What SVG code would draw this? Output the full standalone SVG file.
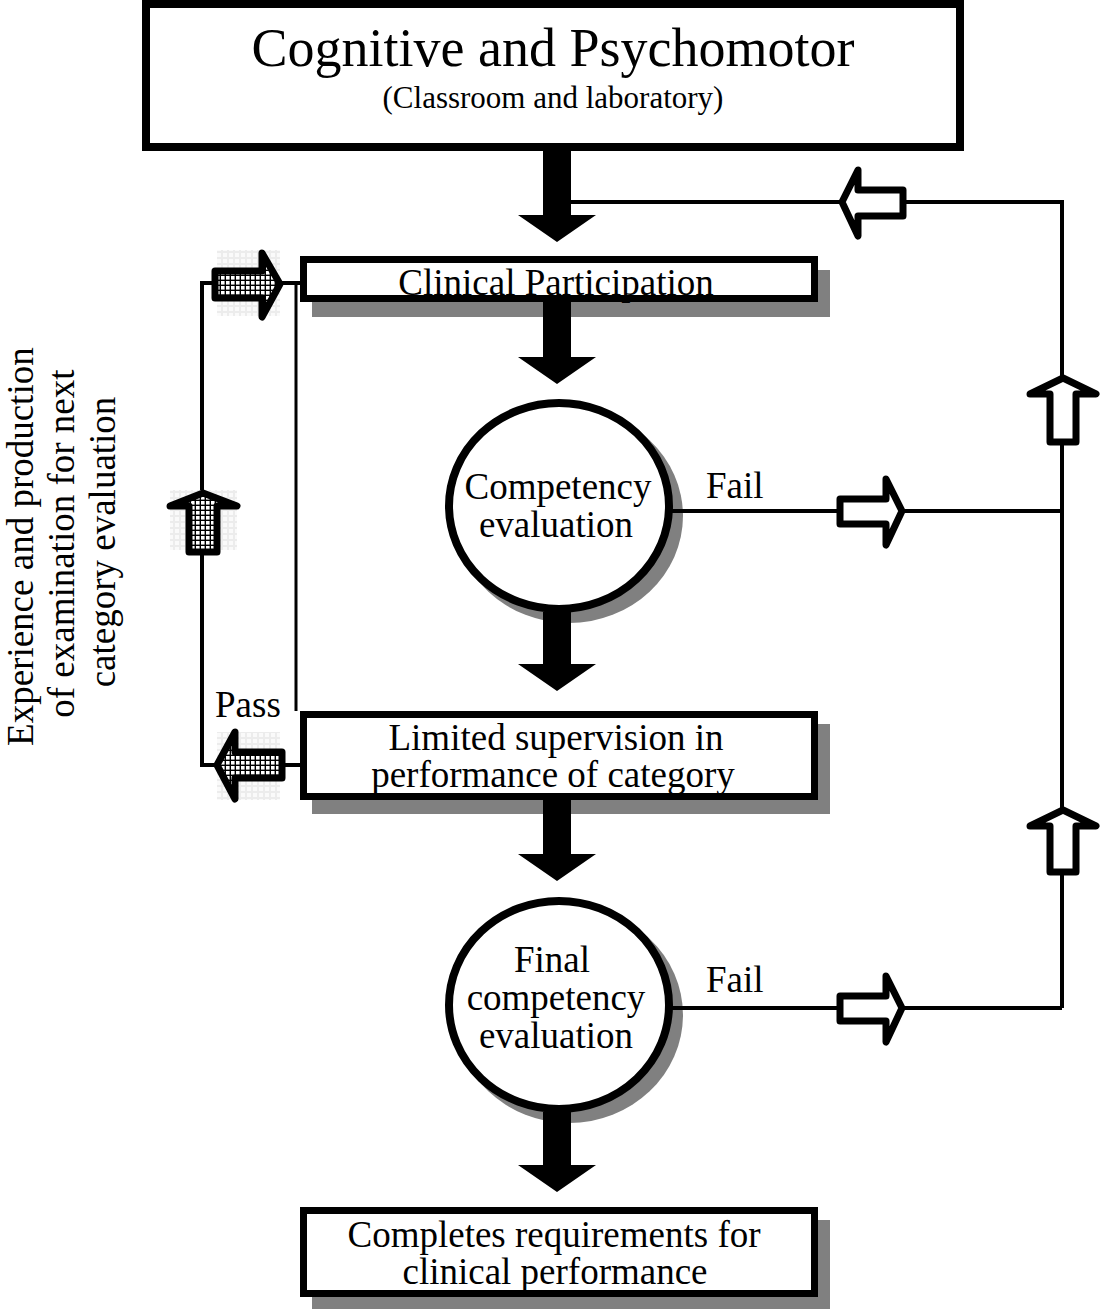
<svg xmlns="http://www.w3.org/2000/svg" width="1100" height="1309" viewBox="0 0 1100 1309">
<style>
text { font-family: "Liberation Serif", "Times New Roman", serif; fill: #000; }
.t { font-size: 37px; text-anchor: middle; }
.lbl { font-size: 37px; }
.box { fill: #fff; stroke: #000; stroke-width: 7; }
.shadow { fill: #808080; }
.circ { fill: #fff; stroke: #000; stroke-width: 8; }
.line { fill: none; stroke: #000; stroke-width: 4; }
.thin { fill: none; stroke: #000; stroke-width: 3; }
.solid { fill: #000; }
.hollow { fill: #fff; stroke: #000; stroke-width: 7; stroke-linejoin: round; }
.dotted { fill: url(#dots); stroke: #000; stroke-width: 7; stroke-linejoin: round; }
.halo { fill: url(#halo); }
</style>
<defs>
<pattern id="dots" width="5" height="5" patternUnits="userSpaceOnUse">
<rect width="5" height="5" fill="#000"/>
<rect x="1" y="1" width="3.6" height="3.6" fill="#fff"/>
</pattern>
<pattern id="halo" width="6" height="6" patternUnits="userSpaceOnUse">
<rect width="6" height="6" fill="#ececec"/>
<rect x="1" y="1" width="4" height="4" fill="#fafafa"/>
</pattern>
</defs>
<rect width="1100" height="1309" fill="#fff"/>

<g id="node-cognitive">
  <rect x="146" y="4" width="814" height="143" fill="#fff" stroke="#000" stroke-width="8"/>
  <text x="553" y="66" style="font-size:54px;text-anchor:middle">Cognitive and Psychomotor</text>
  <text x="553" y="108" style="font-size:31px;text-anchor:middle">(Classroom and laboratory)</text>
</g>

<g id="node-clinical">
  <rect class="shadow" x="312" y="270" width="518" height="47"/>
  <rect class="box" x="303.5" y="259.5" width="511" height="39"/>
  <text class="t" x="556" y="295">Clinical Participation</text>
</g>

<g id="node-competency">
  <ellipse class="shadow" cx="569" cy="516" rx="114" ry="107"/>
  <ellipse class="circ" cx="559" cy="506" rx="110" ry="103"/>
  <text class="t" x="558" y="499">Competency</text>
  <text class="t" x="556" y="537">evaluation</text>
</g>

<g id="node-limited">
  <rect class="shadow" x="312" y="724" width="518" height="90"/>
  <rect class="box" x="303.5" y="714.5" width="511" height="82"/>
  <text class="t" x="556" y="750">Limited supervision in</text>
  <text class="t" x="553" y="787">performance of category</text>
</g>

<g id="node-final">
  <ellipse class="shadow" cx="569" cy="1015" rx="114" ry="108"/>
  <ellipse class="circ" cx="559" cy="1005" rx="110" ry="104"/>
  <text class="t" x="552" y="972">Final</text>
  <text class="t" x="556" y="1010">competency</text>
  <text class="t" x="556" y="1048">evaluation</text>
</g>

<g id="node-completes">
  <rect class="shadow" x="312" y="1220" width="518" height="89"/>
  <rect class="box" x="303.5" y="1210.5" width="511" height="83"/>
  <text class="t" x="554" y="1247">Completes requirements for</text>
  <text class="t" x="555" y="1284">clinical performance</text>
</g>

<g id="side-label">
  <text class="t" transform="translate(33,542) rotate(-90)">
    <tspan x="0" y="0">Experience and production</tspan>
    <tspan x="3" y="41">of examination for next</tspan>
    <tspan x="0" y="82">category evaluation</tspan>
  </text>
</g>

<g id="connectors">
  <!-- right feedback loop -->
  <polyline class="line" points="571,202 1062,202 1062,1008"/>
  <line class="line" x1="671" y1="511" x2="1062" y2="511"/>
  <line class="line" x1="671" y1="1008" x2="1062" y2="1008"/>
  <!-- left pass loop -->
  <polyline class="line" points="300,765 202,765 202,283 300,283"/>
  <line class="thin" x1="296" y1="285" x2="296" y2="711"/>

  <!-- solid down arrows -->
  <polygon class="solid" points="543,151 571,151 571,215 596,215 557,242 518,215 543,215"/>
  <polygon class="solid" points="543,302 571,302 571,357 596,357 557,384 518,357 543,357"/>
  <polygon class="solid" points="543,612 571,612 571,664 596,664 557,691 518,664 543,664"/>
  <polygon class="solid" points="543,800 571,800 571,854 596,854 557,881 518,854 543,854"/>
  <polygon class="solid" points="543,1112 571,1112 571,1165 596,1165 557,1192 518,1165 543,1165"/>

  <!-- hollow arrows -->
  <polygon class="hollow" points="903,190 858,190 858,170 842,202 858,236 858,216 903,216"/>
  <polygon class="hollow" points="840,499 886,499 886,479 902,511 886,545 886,524 840,524"/>
  <polygon class="hollow" points="840,996 886,996 886,976 902,1008 886,1042 886,1021 840,1021"/>
  <polygon class="hollow" points="1050,442 1050,394 1030,394 1063,378 1096,394 1076,394 1076,442"/>
  <polygon class="hollow" points="1050,872 1050,826 1030,826 1063,810 1096,826 1076,826 1076,872"/>

  <!-- dotted arrows on the left -->
  <rect class="halo" x="217" y="250" width="63" height="66"/>
  <polygon class="dotted" points="215,271 262,271 262,253 280,284 262,317 262,298 215,298"/>
  <rect class="halo" x="170" y="490" width="67" height="60"/>
  <polygon class="dotted" points="189,552 189,506 170,506 203,493 237,506 217,506 217,552"/>
  <rect class="halo" x="217" y="732" width="63" height="68"/>
  <polygon class="dotted" points="282,752 235,752 235,732 217,765 235,799 235,778 282,778"/>

  <text class="lbl" x="706" y="498">Fail</text>
  <text class="lbl" x="706" y="992">Fail</text>
  <text class="lbl" x="215" y="717">Pass</text>
</g>
</svg>
